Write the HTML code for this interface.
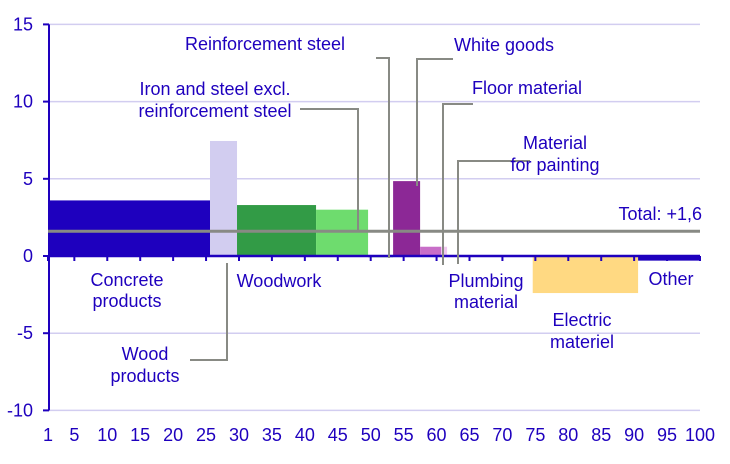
<!DOCTYPE html>
<html><head><meta charset="utf-8"><style>
body{margin:0;background:#fff}
svg{display:block;font-family:"Liberation Sans",sans-serif}
text{fill:#1e00be;font-size:18px}
</style></head><body>
<svg id="c" width="730" height="464"></svg>
<script>
const categories=["Concrete products","Wood products","Woodwork","Iron and steel excl. reinforcement steel","Reinforcement steel","White goods","Floor material","Plumbing material","Material for painting","Electric materiel","Other"];
const weightStart=[1,25.6,29.7,41.7,49.6,53.4,57.5,60.7,61.6,74.6,90.6];
const weightEnd=[25.6,29.7,41.7,49.6,53.4,57.5,60.7,61.6,74.6,90.6,100];
const values=[3.6,7.45,3.3,3.0,-0.1,4.85,0.6,0.6,0.05,-2.4,-0.3];
const colors=["#1e00be","#d2cdf0","#329b46","#6edc6e","#b4e6b4","#8c2896","#c86ec8","#f0c8f0","#1e00be","#ffd982","#1e00be"];
const total=1.6;
const yTicks=[15,10,5,0,-5,-10];
const xTicks=[1,5,10,15,20,25,30,35,40,45,50,55,60,65,70,75,80,85,90,95,100];
const NS="http://www.w3.org/2000/svg",svg=document.getElementById('c');
const X=u=>48+(u-1)*652/99, Y=v=>256-v*15.44;
function el(t,a,txt){const e=document.createElementNS(NS,t);for(const k in a)e.setAttribute(k,a[k]);if(txt!==undefined)e.textContent=txt;svg.appendChild(e);return e;}
yTicks.forEach(v=>{if(v!==0){const g=el('line',{x1:48,x2:700,y1:Y(v),y2:Y(v),stroke:'#d2cdf0','stroke-width':1.5});

}
const t=el('text',{x:33,y:Y(v)+6,'text-anchor':'end'},v);

});
values.forEach((v,i)=>{const y0=Y(0),y1=Y(v);const r=el('rect',{x:X(weightStart[i]),y:Math.min(y0,y1),width:X(weightEnd[i])-X(weightStart[i]),height:Math.max(Math.abs(y1-y0),1),fill:colors[i]});

});
const ax=el('line',{x1:48,x2:700,y1:Y(0),y2:Y(0),stroke:'#1e00be','stroke-width':2.5});


const ay=el('line',{x1:49,x2:49,y1:Y(15),y2:Y(-10),stroke:'#1e00be','stroke-width':2});


yTicks.forEach(v=>{const k=el('line',{x1:43,x2:49,y1:Y(v),y2:Y(v),stroke:'#1e00be','stroke-width':2});

});
xTicks.forEach(u=>{const k=el('line',{x1:X(u),x2:X(u),y1:Y(0),y2:Y(0)+5,stroke:'#1e00be','stroke-width':2});


const t=el('text',{x:X(u),y:441,'text-anchor':'middle'},u);

});
const tl=el('line',{x1:48,x2:700,y1:Y(total),y2:Y(total),stroke:'#888a84','stroke-width':3});


const tt=el('text',{x:702,y:220,'text-anchor':'end'},'Total: +'+String(total).replace('.',','));


const leaders=[
 "M376 58H389V258","M453 59H417V186","M300 109H358V230","M473 104H443V265","M530 161H458V264","M190 360H227V263"];
leaders.forEach(d=>{const p=el('path',{d:d,fill:'none',stroke:'#888a84','stroke-width':2});

});
const labels=[[265,50,"Reinforcement steel"],[504,51,"White goods"],[215,95,"Iron and steel excl."],[215,117,"reinforcement steel"],[527,94,"Floor material"],[555,149,"Material"],[555,171,"for painting"],[127,286,"Concrete"],[127,307,"products"],[279,287,"Woodwork"],[145,360,"Wood"],[145,382,"products"],[486,287,"Plumbing"],[486,308,"material"],[582,326,"Electric"],[582,348,"materiel"],[671,285,"Other"]];
labels.forEach(l=>{const t=el('text',{x:l[0],y:l[1],'text-anchor':'middle'},l[2]);

});
</script>
</body></html>
